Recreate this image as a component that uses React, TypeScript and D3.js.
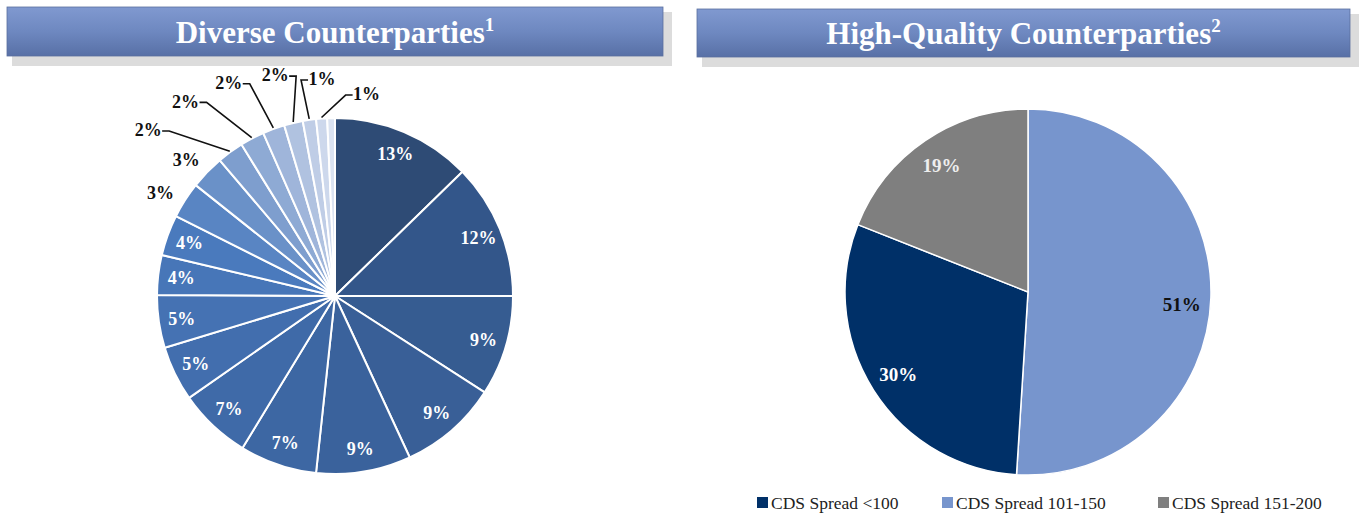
import React from 'react';
import * as d3 from 'd3';

// ---------- Data ----------
const leftTitle = 'Diverse Counterparties';
const leftTitleNote = '1';
const rightTitle = 'High-Quality Counterparties';
const rightTitleNote = '2';

const leftValues = [12.7, 12.3, 9.1, 9.0, 8.6, 7.0, 6.6, 5.0, 4.8, 3.6, 3.7, 3.3, 3.1, 2.4, 2.2, 2.0, 1.7, 1.2, 1.0, 0.7];
const leftLabels = ['13%', '12%', '9%', '9%', '9%', '7%', '7%', '5%', '5%', '4%', '4%', '3%', '3%', '2%', '2%', '2%', '2%', '1%', '1%', ''];
const leftColors = [
  '#2e4b75', '#33568a', '#365c91', '#395f97', '#3a629c', '#3d67a3', '#3f6aa8', '#426eae', '#4572b3', '#4776b8',
  '#4a7abd', '#5985c3', '#6a91c8', '#7e9ece', '#8eaad4', '#9fb5da', '#b0c2e0', '#bfcde6', '#cdd8ec', '#dbe3f1',
];

const rightCategories = ['CDS Spread 101-150', 'CDS Spread <100', 'CDS Spread 151-200'];
const rightValues = [51, 30, 19];
const rightLabels = ['51%', '30%', '19%'];
const rightColors = ['#7795cd', '#003068', '#7f7f7f'];
const rightLabelColors = ['#111111', '#ffffff', '#eeeeee'];
const legendOrder = ['CDS Spread <100', 'CDS Spread 101-150', 'CDS Spread 151-200'];

const FONT = '"Liberation Serif", "Times New Roman", serif';

type PD = d3.PieArcDatum<number>;

function Banner({ x, y, w, h, title, note, id }: { x: number; y: number; w: number; h: number; title: string; note: string; id: string }) {
  return (
    <g>
      <rect x={x + 5} y={y + 5} width={w + 4} height={h + 5} fill="#dcdcdc" />
      <defs>
        <linearGradient id={id} x1="0" y1="0" x2="0" y2="1">
          <stop offset="0" stopColor="#8099d0" />
          <stop offset="0.5" stopColor="#6e88c0" />
          <stop offset="1" stopColor="#5870a6" />
        </linearGradient>
      </defs>
      <rect x={x} y={y} width={w} height={h} fill={`url(#${id})`} stroke="#5a6f9f" strokeWidth={0.8} />
      <text
        x={x + w / 2}
        y={y + h / 2 + 11}
        textAnchor="middle"
        fill="#ffffff"
        fontFamily={FONT}
        fontSize={31}
        fontWeight="bold"
      >
        {title}
        <tspan fontSize={19} dy={-12}>{note}</tspan>
      </text>
    </g>
  );
}

export default function App() {
  const W = 1362;
  const H = 518;

  // Left pie
  const lcx = 335, lcy = 296, lr = 178;
  const pie = d3.pie<number>().sort(null).value((d) => d);
  const leftArcs = pie(leftValues);
  const leftArc = d3.arc<PD>().innerRadius(0).outerRadius(lr);
  const leftLabelArc = d3.arc<PD>().innerRadius(lr * 0.87).outerRadius(lr * 0.87);

  const mid = (a: PD) => (a.startAngle + a.endAngle) / 2;

  // Outside labels: plain (3%) and with leader lines (< 3)
  const plainIdx = leftArcs.map((a, i) => i).filter((i) => leftLabels[i] && leftValues[i] >= 3 && leftValues[i] < 3.5);
  const leaderIdx = leftArcs.map((a, i) => i).filter((i) => leftLabels[i] && leftValues[i] < 3);

  const toSigned = (ang: number) => (ang > Math.PI ? ang - 2 * Math.PI : ang);
  const desired = leaderIdx.map((i) => toSigned(mid(leftArcs[i])));
  const meanAng = (d3.mean(desired) as number) + (9 * Math.PI) / 180;
  const sep = (14 * Math.PI) / 180;
  const n = leaderIdx.length;
  // labels ride on an arc centred up-left of the pie centre
  const lblCx = lcx - 52, lblCy = lcy - 28, lblR = 193;
  const leaderLabels = leaderIdx.map((i, k) => {
    const ang = meanAng + (k - (n - 1) / 2) * sep;
    const tx = lblCx + lblR * Math.sin(ang);
    const ty = lblCy - lblR * Math.cos(ang);
    const m = mid(leftArcs[i]);
    const px = lcx + (lr + 1) * Math.sin(m);
    const py = lcy - (lr + 1) * Math.cos(m);
    const left = tx < px;
    const edge = left ? tx + 14 : tx - 14;
    const elbow = left ? edge + 7 : edge - 7;
    return { i, tx, ty, path: `M${edge},${ty + 1}L${elbow},${ty + 1}L${px},${py}` };
  });

  // Right pie
  const rcx = 1028, rcy = 292, rr = 183;
  const rightArcs = pie(rightValues);
  const rightArc = d3.arc<PD>().innerRadius(0).outerRadius(rr);
  const rightLabelArc = d3.arc<PD>().innerRadius(rr * 0.84).outerRadius(rr * 0.84);

  const legendX = [757, 942, 1158];

  return (
    <svg width={W} height={H} style={{ position: 'absolute', left: 0, top: 0, display: 'block', background: '#fff' }}>
      <Banner x={7} y={7} w={656} h={49} title={leftTitle} note={leftTitleNote} id="g1" />
      <Banner x={697} y={9} w={653} h={48} title={rightTitle} note={rightTitleNote} id="g2" />

      {/* Left pie */}
      <g transform={`translate(${lcx},${lcy})`}>
        {leftArcs.map((a, i) => (
          <path key={i} d={leftArc(a) as string} fill={leftColors[i]} stroke="#ffffff" strokeWidth={2} strokeLinejoin="round" />
        ))}
        {leftArcs.map((a, i) => {
          if (!leftLabels[i] || leftValues[i] < 3.5) return null;
          const [x, y] = leftLabelArc.centroid(a);
          return (
            <text key={i} x={x} y={y} dy="0.35em" textAnchor="middle" fill="#ffffff" fontFamily={FONT} fontSize={18} fontWeight="bold">
              {leftLabels[i]}
            </text>
          );
        })}
      </g>
      {plainIdx.map((i) => {
        const m = mid(leftArcs[i]);
        const x = lcx + 207 * Math.sin(m);
        const y = lcy - 207 * Math.cos(m) + 8;
        return (
          <text key={i} x={x} y={y} dy="0.35em" textAnchor="middle" fill="#111" fontFamily={FONT} fontSize={18} fontWeight="bold">
            {leftLabels[i]}
          </text>
        );
      })}
      {leaderLabels.map((l) => (
        <g key={l.i}>
          <path d={l.path} fill="none" stroke="#111" strokeWidth={1.6} />
          <text x={l.tx} y={l.ty} dy="0.35em" textAnchor="middle" fill="#111" fontFamily={FONT} fontSize={18} fontWeight="bold">
            {leftLabels[l.i]}
          </text>
        </g>
      ))}

      {/* Right pie */}
      <g transform={`translate(${rcx},${rcy})`}>
        {rightArcs.map((a, i) => (
          <path key={i} d={rightArc(a) as string} fill={rightColors[i]} stroke="#ffffff" strokeWidth={1.5} />
        ))}
        {rightArcs.map((a, i) => {
          const [x, y] = rightLabelArc.centroid(a);
          return (
            <text key={i} x={x} y={y + (i === 0 ? 8 : 0)} dy="0.35em" textAnchor="middle" fill={rightLabelColors[i]} fontFamily={FONT} fontSize={19} fontWeight="bold">
              {rightLabels[i]}
            </text>
          );
        })}
      </g>

      {/* Legend */}
      {legendOrder.map((cat, k) => {
        const ci = rightCategories.indexOf(cat);
        return (
          <g key={cat}>
            <rect x={legendX[k]} y={497} width={11} height={11} fill={rightColors[ci]} />
            <text x={legendX[k] + 14} y={509} fill="#222" fontFamily={FONT} fontSize={17.5}>
              {cat}
            </text>
          </g>
        );
      })}
    </svg>
  );
}
